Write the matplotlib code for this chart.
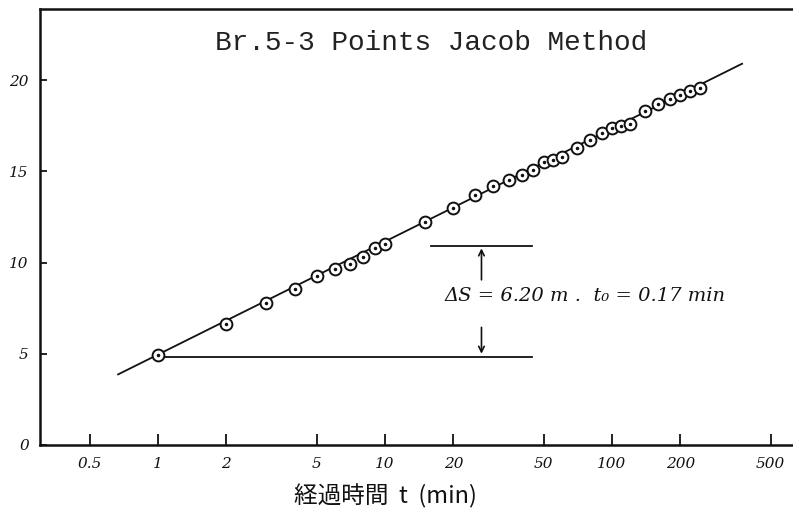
import matplotlib
matplotlib.use("Agg")
import matplotlib.pyplot as plt

# ---- data ----
t_obs = [1, 2, 3, 4, 5, 6, 7, 8, 9, 10, 15, 20, 25, 30, 35, 40, 45, 50, 55, 60,
         70, 80, 90, 100, 110, 120, 140, 160, 180, 200, 220, 245]
s_obs = [4.95, 6.65, 7.8, 8.57, 9.29, 9.67, 9.9, 10.3, 10.8, 11.0, 12.2, 13.0,
         13.7, 14.2, 14.5, 14.8, 15.1, 15.5, 15.6, 15.8, 16.3, 16.7, 17.1, 17.4,
         17.5, 17.6, 18.3, 18.7, 18.95, 19.2, 19.4, 19.56]

fit_t = [0.667, 374]
fit_s = [3.87, 20.9]

low_ref_t = [1.07, 44.4]
low_ref_s = 4.85
up_ref_t = [16.0, 44.4]
up_ref_s = 10.93
arrow_t = 26.6

x_ticks = [0.5, 1, 2, 5, 10, 20, 50, 100, 200, 500]
x_tick_labels = ["0.5", "1", "2", "5", "10", "20", "50", "100", "200", "500"]
y_ticks = [0, 5, 10, 15, 20]
y_tick_labels = ["0", "5", "10", "15", "20"]

title = "Br.5-3 Points Jacob Method"
xlabel = "経過時間  t  (min)"
note = "ΔS = 6.20 m .  t₀ = 0.17 min"

W, H = 793, 514
fig = plt.figure(figsize=(W / 100, H / 100), dpi=100)
ax = fig.add_axes([40 / W, 1 - 445 / H, (W - 40) / W, (445 - 9) / H])
ax.set_xscale("log")
ax.set_xlim(0.302, 627)
ax.set_ylim(0, 23.9)

ink = "#111111"

# fitted line
ax.plot(fit_t, fit_s, color=ink, lw=1.3, zorder=2)
# observations: open circles with a centre dot
ax.plot(t_obs, s_obs, linestyle="none", marker="o", ms=8.5, mfc="white",
        mec=ink, mew=1.4, zorder=3)
ax.plot(t_obs, s_obs, linestyle="none", marker="o", ms=1.5, mfc=ink,
        mec=ink, zorder=4)

# reference lines and arrows
ax.plot(low_ref_t, [low_ref_s, low_ref_s], color=ink, lw=1.3)
ax.plot(up_ref_t, [up_ref_s, up_ref_s], color=ink, lw=1.3)
ax.annotate("", xy=(arrow_t, up_ref_s), xytext=(arrow_t, 8.9),
            arrowprops=dict(arrowstyle="->", color=ink, lw=1.2))
ax.annotate("", xy=(arrow_t, low_ref_s), xytext=(arrow_t, 6.6),
            arrowprops=dict(arrowstyle="->", color=ink, lw=1.2))
ax.text(18.3, 8.16, note, fontsize=14, style="italic", color=ink,
        ha="left", va="center", family="DejaVu Serif")

# axes styling
ax.spines["right"].set_visible(False)
for side in ("left", "bottom", "top"):
    ax.spines[side].set_linewidth(1.8)
    ax.spines[side].set_color(ink)

ax.set_xticks(x_ticks)
ax.set_xticklabels(x_tick_labels)
ax.xaxis.set_minor_locator(matplotlib.ticker.NullLocator())
ax.set_yticks(y_ticks)
ax.set_yticklabels(y_tick_labels)
ax.tick_params(axis="x", direction="in", length=8, width=1.3, pad=9,
               labelsize=11, colors=ink)
ax.tick_params(axis="y", direction="in", length=5, width=1.3, pad=8,
               labelsize=11, colors=ink)
for lab in ax.get_xticklabels() + ax.get_yticklabels():
    lab.set_fontstyle("italic")
    lab.set_family("DejaVu Serif")

ax.set_xlabel(xlabel, fontsize=17, family=["Noto Sans CJK JP", "DejaVu Sans"],
              color=ink)
ax.xaxis.set_label_coords((385 - 40) / (W - 40), -(484 - 445) / (445 - 9))

fig.text(431 / W, 1 - 43 / H, title, fontsize=20, family="Liberation Mono",
         ha="center", va="center", color="#222222")

fig.savefig("out.png", dpi=100, facecolor="white")
